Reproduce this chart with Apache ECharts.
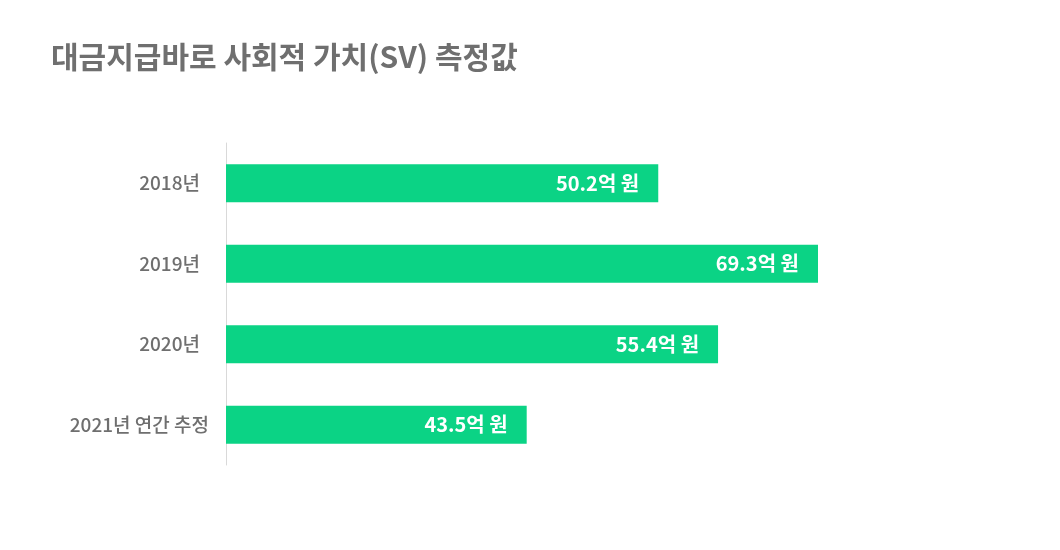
<!DOCTYPE html>
<html><head><meta charset="utf-8">
<script src="https://cdn.jsdelivr.net/npm/echarts@6/dist/echarts.min.js"></script>
<style>html,body{margin:0;padding:0;background:#fff}#c{width:1060px;height:550px}</style>
</head><body><div id="c"></div>
<script>
const categories = ['2018년', '2019년', '2020년', '2021년 연간 추정'];
const labelValues = [50.2, 69.3, 55.4, 43.5];
// bar lengths as drawn in the picture (not proportional to the labels)
const barLengths = [50.6, 69.3, 57.6, 35.2];
const axisMax = 69.3;

const chart = echarts.init(document.getElementById('c'));
chart.setOption({
  backgroundColor: '#ffffff',
  animation: false,
  title: {
    text: '대금지급바로 사회적 가치(SV) 측정값',
    left: 46, top: 37,
    textStyle: { fontFamily: 'Noto Sans CJK KR', fontSize: 30, fontWeight: 'bold', color: '#6f6f6f' }
  },
  grid: { left: 226, right: 242, top: 143, bottom: 85 },
  xAxis: { type: 'value', min: 0, max: axisMax, show: false },
  yAxis: {
    type: 'category',
    data: categories.map((c, i) => i === categories.length - 1
      ? { value: c, textStyle: { padding: [0, -9, 0, 0] } } : c),
    inverse: true,
    axisLine: { show: true, lineStyle: { color: '#d9d9d9', width: 1 } },
    axisTick: { show: false },
    axisLabel: { margin: 26, fontFamily: 'Noto Sans CJK KR', fontSize: 19, fontWeight: 500, color: '#6f6f6f' },
    splitLine: { show: false }
  },
  series: [{
    type: 'bar',
    data: barLengths,
    barWidth: 38,
    itemStyle: { color: '#0bd385' },
    label: {
      show: true, position: 'insideRight', distance: 19,
      formatter: p => labelValues[p.dataIndex] + '억 원',
      fontFamily: 'Noto Sans CJK KR', fontSize: 20, fontWeight: 'bold', color: '#ffffff'
    }
  }]
});
</script></body></html>
